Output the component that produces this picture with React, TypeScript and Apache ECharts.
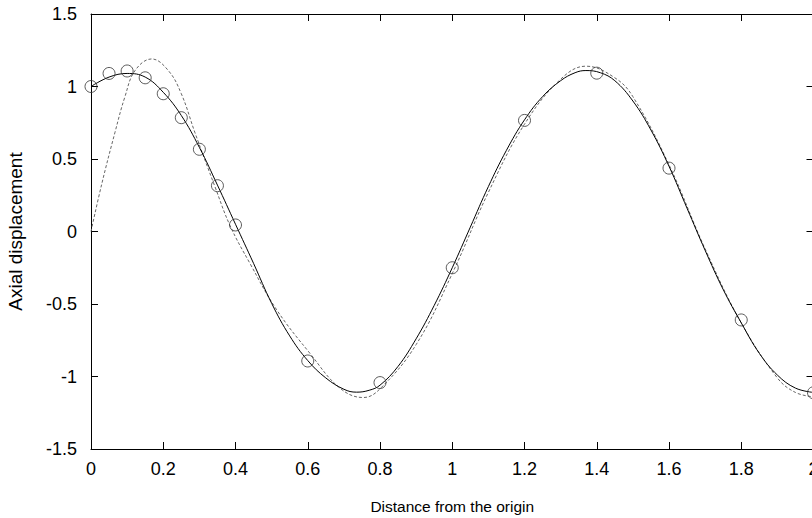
import React, { useEffect, useRef } from "react";
import * as echarts from "echarts";

const xTicks = { min: 0, max: 2, interval: 0.2 };
const yTicks = { min: -1.5, max: 1.5, interval: 0.5 };

const measuredX = [0, 0.05, 0.1, 0.15, 0.2, 0.25, 0.3, 0.35, 0.4, 0.6, 0.8, 1.0, 1.2, 1.4, 1.6, 1.8, 2.0];
const measuredY = [1.0, 1.09, 1.107, 1.06, 0.95, 0.785, 0.567, 0.316, 0.045, -0.893, -1.042, -0.25, 0.766, 1.092, 0.437, -0.61, -1.112];

const fitX = [0, 0.05, 0.1, 0.15, 0.2, 0.25, 0.3, 0.35, 0.4, 0.45, 0.5, 0.55, 0.6, 0.65, 0.7, 0.735, 0.77, 0.8, 0.85, 0.9, 0.95, 1.0, 1.05, 1.1, 1.15, 1.2, 1.25, 1.3, 1.34, 1.37, 1.41, 1.45, 1.5, 1.55, 1.6, 1.65, 1.7, 1.75, 1.8, 1.85, 1.9, 1.95, 2.0];
const fitY = [1.0, 1.065, 1.09, 1.065, 0.96, 0.8, 0.58, 0.32, 0.05, -0.22, -0.495, -0.72, -0.89, -1.01, -1.088, -1.108, -1.095, -1.06, -0.93, -0.74, -0.51, -0.25, 0.03, 0.31, 0.56, 0.77, 0.93, 1.04, 1.095, 1.11, 1.095, 1.04, 0.9, 0.7, 0.45, 0.16, -0.13, -0.4, -0.63, -0.84, -0.99, -1.08, -1.11];

const approxX = [0, 0.03, 0.066, 0.094, 0.122, 0.168, 0.214, 0.25, 0.288, 0.343, 0.385, 0.44, 0.514, 0.606, 0.689, 0.754, 0.8, 0.9, 1.0, 1.1, 1.2, 1.3, 1.37, 1.45, 1.5, 1.6, 1.7, 1.8, 1.9, 1.95, 2.0];
const approxY = [0, 0.33, 0.68, 0.93, 1.11, 1.19, 1.11, 0.95, 0.68, 0.31, 0.04, -0.22, -0.54, -0.84, -1.08, -1.145, -1.085, -0.78, -0.29, 0.27, 0.74, 1.05, 1.14, 1.06, 0.93, 0.46, -0.12, -0.63, -1.01, -1.11, -1.14];

const xName = "Distance from the origin";
const yName = "Axial displacement";

const FONT = "'Liberation Sans', Arial, Helvetica, sans-serif";
const TICK_FS = 18;
const XNAME_FS = 15.5;
const YNAME_FS = 19;

export default function App() {
  const ref = useRef<HTMLDivElement>(null);
  useEffect(() => {
    if (!ref.current) return;
    const chart = echarts.init(ref.current, undefined, { renderer: "svg" });
    const zip = (xs: number[], ys: number[]) => xs.map((x, i) => [x, ys[i]]);
    const axisLine = { show: true, onZero: false, lineStyle: { color: "#000", width: 1 } };
    const axisTick = { show: true, inside: true, length: 7, lineStyle: { color: "#000", width: 1 } };
    chart.setOption({
      animation: false,
      backgroundColor: "#fff",
      textStyle: { fontFamily: FONT },
      grid: { left: 91, top: 14, width: 722.5, height: 435, outerBoundsMode: "none", containLabel: false },
      xAxis: [
        {
          type: "value", position: "bottom", ...xTicks,
          axisLine, axisTick, splitLine: { show: false },
          axisLabel: { color: "#000", fontSize: TICK_FS, fontFamily: FONT, margin: 11, showMaxLabel: true, showMinLabel: true },
          name: xName, nameLocation: "middle", nameGap: 49,
          nameTextStyle: { color: "#000", fontSize: XNAME_FS, fontFamily: FONT },
        },
        {
          type: "value", position: "top", ...xTicks,
          axisLine, axisTick, splitLine: { show: false }, axisLabel: { show: false },
        },
      ],
      yAxis: [
        {
          type: "value", position: "left", ...yTicks,
          axisLine, axisTick, splitLine: { show: false },
          axisLabel: { color: "#000", fontSize: TICK_FS, fontFamily: FONT, margin: 14, showMaxLabel: true, showMinLabel: true },
          name: yName, nameLocation: "middle", nameGap: 66,
          nameTextStyle: { color: "#000", fontSize: YNAME_FS, fontFamily: FONT },
        },
        {
          type: "value", position: "right", ...yTicks,
          axisLine, axisTick, splitLine: { show: false }, axisLabel: { show: false },
        },
      ],
      series: [
        {
          type: "line", name: "approx", data: zip(approxX, approxY), smooth: 0.4,
          showSymbol: false, symbol: "none",
          lineStyle: { color: "#666", width: 1, type: [3, 2] },
          z: 2,
        },
        {
          type: "line", name: "fit", data: zip(fitX, fitY), smooth: 0.4,
          showSymbol: false, symbol: "none",
          lineStyle: { color: "#000", width: 1 },
          z: 3,
        },
        {
          type: "scatter", name: "measured", data: zip(measuredX, measuredY),
          symbol: "circle", symbolSize: 12,
          itemStyle: { color: "rgba(0,0,0,0)", borderColor: "#333", borderWidth: 1 },
          z: 4,
        },
      ],
    });
    return () => chart.dispose();
  }, []);
  return <div ref={ref} style={{ position: "fixed", left: 0, top: 0, width: 812, height: 518 }} />;
}
